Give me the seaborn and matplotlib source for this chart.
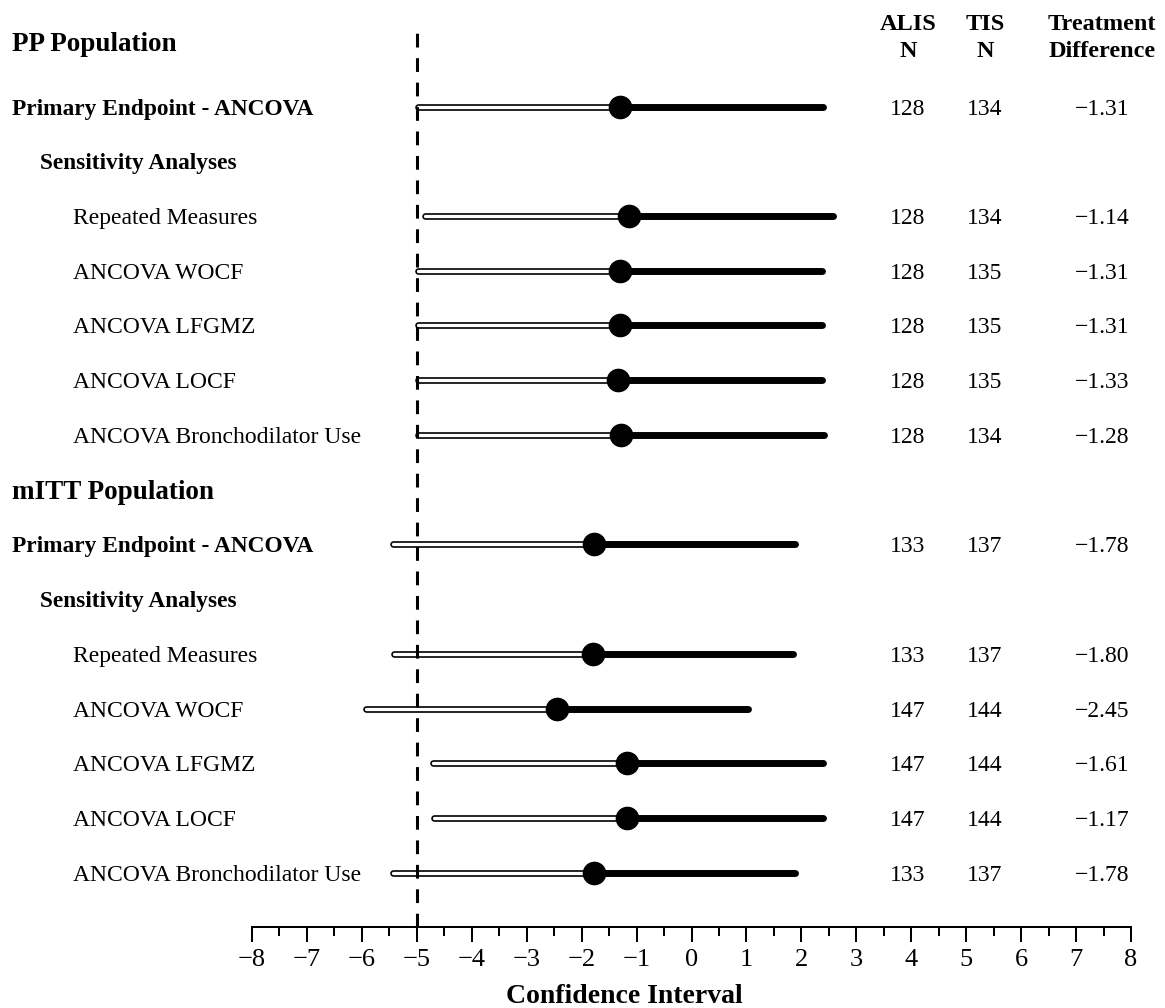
import numpy as np
import pandas as pd
import seaborn as sns
import matplotlib.pyplot as plt
from matplotlib import transforms

# row layout of the forest plot (top to bottom)
row_labels = ["PP Population", "Primary Endpoint - ANCOVA", "Sensitivity Analyses",
              "Repeated Measures", "ANCOVA WOCF", "ANCOVA LFGMZ", "ANCOVA LOCF",
              "ANCOVA Bronchodilator Use",
              "mITT Population", "Primary Endpoint - ANCOVA", "Sensitivity Analyses",
              "Repeated Measures", "ANCOVA WOCF", "ANCOVA LFGMZ", "ANCOVA LOCF",
              "ANCOVA Bronchodilator Use"]
row_kinds = ["pop", "primary", "sens", "item", "item", "item", "item", "item",
             "pop", "primary", "sens", "item", "item", "item", "item", "item"]

# values for the rows that carry an interval
ci_low = [-4.98, -4.85, -4.98, -4.98, -4.98, -4.98,
          -5.43, -5.42, -5.92, -4.70, -4.69, -5.43]
estimate = [-1.31, -1.14, -1.31, -1.31, -1.33, -1.28,
            -1.78, -1.80, -2.45, -1.17, -1.17, -1.78]
ci_high = [2.39, 2.57, 2.38, 2.37, 2.37, 2.42,
           1.88, 1.84, 1.02, 2.39, 2.39, 1.88]
alis_n = [128, 128, 128, 128, 128, 128, 133, 133, 147, 147, 147, 133]
tis_n = [134, 134, 135, 135, 135, 134, 137, 137, 144, 144, 144, 137]
treat_diff = [-1.31, -1.14, -1.31, -1.31, -1.33, -1.28,
              -1.78, -1.80, -2.45, -1.61, -1.17, -1.78]

data_rows = [i for i, k in enumerate(row_kinds) if k in ("primary", "item")]
df = pd.DataFrame({"row": data_rows, "low": ci_low, "est": estimate, "high": ci_high,
                   "alis": alis_n, "tis": tis_n, "diff": treat_diff})

sns.set_theme(style="ticks")
plt.rcParams["font.family"] = ["Liberation Serif", "DejaVu Serif"]
plt.rcParams["text.color"] = "black"
plt.rcParams["xtick.color"] = "black"
plt.rcParams["axes.edgecolor"] = "black"

W, H = 1165, 1008
fig = plt.figure(figsize=(W / 100, H / 100), dpi=100)
ax = fig.add_axes([252 / W, 1 - 927 / H, (1131 - 252) / W, (927 - 25) / H])

# hollow part (lower bound -> estimate), solid part (estimate -> upper bound)
ax.hlines(df["row"], df["low"], df["est"], color="black", lw=4.8, capstyle="round", zorder=2)
ax.hlines(df["row"], df["low"], df["est"], color="white", lw=2.4, capstyle="round", zorder=2.5)
ax.hlines(df["row"], df["est"], df["high"], color="black", lw=5.0, capstyle="round", zorder=2)
ax.axvline(-5, color="black", lw=2.2, linestyle=(0, (4.5, 3.5)), zorder=3)
sns.scatterplot(data=df, x="est", y="row", color="black", s=290, edgecolor="black",
                linewidth=0, zorder=5, ax=ax, legend=False)

ax.set_xlim(-8, 8)
ax.set_ylim(15.99, -0.49)
ax.set_xticks(range(-8, 9))
ax.set_xticks(np.arange(-7.5, 8, 1), minor=True)
ax.set_yticks([])
ax.set_xlabel("")
ax.set_ylabel("")
ax.tick_params(axis="x", which="major", length=10.8, width=1.44, labelsize=19, pad=5,
               color="black", labelcolor="black")
ax.tick_params(axis="x", which="minor", length=6.5, width=1.44, color="black")
sns.despine(ax=ax, left=True)
ax.spines["bottom"].set_linewidth(1.44)
ax.spines["bottom"].set_color("black")

# row labels on the left
lab_tr = transforms.offset_copy(transforms.blended_transform_factory(fig.transFigure, ax.transData),
                                fig=fig, y=-8, units="dots")
pop_tr = transforms.offset_copy(transforms.blended_transform_factory(fig.transFigure, ax.transData),
                                fig=fig, y=-9.5, units="dots")
styles = {"pop": (12, 19.5, "bold"), "primary": (12, 16.8, "bold"),
          "sens": (40, 16.8, "bold"), "item": (73, 17, "normal")}
for i, (lab, kind) in enumerate(zip(row_labels, row_kinds)):
    x, size, weight = styles[kind]
    y = i - 0.19 if i == 0 else i
    ax.text(x / W, y, lab, transform=pop_tr if kind == "pop" else lab_tr,
            fontsize=size, fontweight=weight, ha="left", va="baseline", color="black")

# numeric columns on the right
col_x = [908 / W, 985 / W, 1102 / W]
for _, r in df.iterrows():
    vals = [f"{int(r['alis'])}", f"{int(r['tis'])}", f"{r['diff']:.2f}".replace("-", "\u2212")]
    for cx, v in zip(col_x, vals):
        ax.text(cx, r["row"], v, transform=lab_tr, fontsize=17, ha="center", va="baseline",
                color="black")

headers = [("ALIS", "N"), ("TIS", "N"), ("Treatment", "Difference")]
for cx, (l1, l2) in zip(col_x, headers):
    fig.text(cx, 1 - 30 / H, l1, fontsize=17.5, fontweight="bold", ha="center", va="baseline")
    fig.text(cx, 1 - 57 / H, l2, fontsize=17.5, fontweight="bold", ha="center", va="baseline")

fig.text(624 / W, 5 / H, "Confidence Interval", fontsize=20, fontweight="bold",
         ha="center", va="baseline")

fig.savefig("out.png", dpi=100)
